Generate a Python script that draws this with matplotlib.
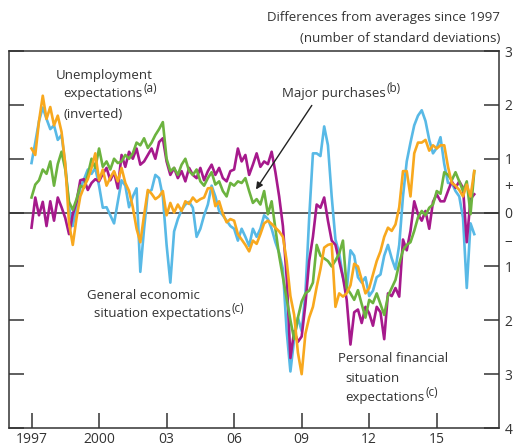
import matplotlib
matplotlib.use('Agg')
import matplotlib.pyplot as plt
import matplotlib.ticker as mticker
import numpy as np
import pandas as pd

plt.rcParams['font.family'] = ['Open Sans', 'DejaVu Sans']

# bi-monthly observations, Jan 1997 to Sep 2016
dates = pd.date_range('1997-01-01', periods=119, freq='2MS')

unemployment = [
    0.92, 1.3, 1.7, 1.95, 1.74, 1.55, 1.62, 1.35, 1.44, 0.9,
    0.1, -0.25, 0.1, 0.45, 0.62, 0.8, 0.72, 0.83, 0.5, 0.09,
    0.1, -0.05, -0.2, 0.2, 0.6, 0.5, 0.1, 0.3, 0.45, -1.1,
    -0.3, 0.38, 0.42, 0.7, 0.64, 0.3, -0.6, -1.3, -0.35, -0.12,
    0.05, 0.15, 0.2, 0.09, -0.45, -0.3, -0.05, 0.15, 0.5, 0.3,
    0.03, -0.05, -0.15, -0.25, -0.3, -0.52, -0.3, -0.45, -0.62, -0.3,
    -0.45, -0.3, -0.05, -0.12, -0.3, -0.55, -0.75, -1.05, -2.2, -2.95,
    -2.35, -1.95, -2.2, -1.5, -0.1, 1.1, 1.1, 1.05, 1.6, 1.25,
    0.3, -0.5, -0.75, -1.2, -1.45, -0.7, -0.8, -1.2, -1.3, -1.2,
    -1.55, -1.45, -1.2, -1.15, -0.8, -0.6, -0.85, -1.05, -0.6, 0.3,
    0.95, 1.3, 1.62, 1.8, 1.9, 1.7, 1.35, 1.1, 1.2, 1.4,
    0.9, 0.55, 0.55, 0.4, 0.3, -0.1, -1.4, -0.2, -0.4,
]

purchases = [
    0.28, 0.52, 0.6, 0.8, 0.72, 0.95, 0.5, 0.9, 1.13, 0.8,
    0.2, 0.05, 0.25, 0.5, 0.46, 0.7, 1.0, 0.83, 1.19, 0.85,
    0.95, 0.8, 1.0, 0.92, 0.95, 1.07, 1.0, 1.1, 1.3, 1.25,
    1.38, 1.2, 1.3, 1.44, 1.55, 1.68, 1.0, 0.77, 0.83, 0.7,
    0.89, 1.0, 0.77, 0.7, 0.8, 0.58, 0.5, 0.64, 0.75, 0.52,
    0.58, 0.4, 0.3, 0.55, 0.5, 0.58, 0.55, 0.64, 0.4, 0.18,
    0.25, 0.15, 0.4, -0.03, 0.21, -0.3, -0.8, -1.2, -1.6, -2.0,
    -2.35, -1.95, -1.65, -1.5, -1.45, -1.3, -0.6, -0.8, -0.85, -0.9,
    -1.0, -0.89, -0.76, -0.52, -1.4, -1.5, -1.62, -1.44, -1.7, -1.95,
    -1.62, -1.68, -1.5, -1.7, -1.9, -1.55, -1.4, -1.25, -0.95, -0.7,
    -0.6, -0.55, -0.34, -0.09, 0.03, -0.05, 0.09, 0.15, 0.4, 0.35,
    0.75, 0.7, 0.6, 0.75, 0.58, 0.4, 0.58, -0.03, 0.77,
]

personal = [
    -0.28, 0.28, -0.05, 0.2, -0.25, 0.21, -0.15, 0.28, 0.1, -0.1,
    -0.4, -0.03, 0.2, 0.6, 0.62, 0.42, 0.55, 0.62, 0.58, 0.72,
    0.83, 0.6, 0.75, 0.45, 1.07, 0.85, 1.13, 1.0, 1.19, 0.89,
    0.95, 1.07, 1.19, 1.0, 1.31, 1.38, 0.95, 0.7, 0.83, 0.64,
    0.77, 0.58, 0.83, 0.7, 0.64, 0.83, 0.6, 0.77, 0.89, 0.7,
    0.83, 0.64, 0.58, 0.77, 0.8, 1.19, 0.95, 1.07, 0.7, 0.89,
    1.1, 0.85, 0.95, 0.9, 1.13, 0.75, 0.3, -0.25, -1.2, -2.7,
    -2.2, -2.4, -2.3, -1.7, -0.9, -0.45, 0.15, 0.09, 0.28, -0.15,
    -0.52, -0.6, -0.9, -1.2, -1.62, -2.45, -1.85, -1.8, -2.05, -1.75,
    -1.87, -2.1, -1.75, -1.85, -2.35, -1.5, -1.55, -1.4, -1.56, -0.5,
    -0.7, -0.34, 0.21, -0.03, -0.15, 0.03, -0.3, 0.2, 0.34, 0.21,
    0.21, 0.4, 0.58, 0.46, 0.58, 0.46, -0.55, 0.25, 0.34,
]

general = [
    1.19, 1.07, 1.7, 2.17, 1.74, 1.96, 1.62, 1.8, 1.5, 0.9,
    -0.2, -0.6, -0.1, 0.3, 0.48, 0.62, 0.83, 1.1, 0.6, 0.8,
    0.5, 0.65, 0.77, 0.58, 0.83, 0.55, 0.4, 0.1, -0.3, -0.55,
    -0.05, 0.42, 0.35, 0.25, 0.3, 0.4, -0.05, 0.18, 0.0, 0.15,
    0.03, 0.21, 0.16, 0.28, 0.2, 0.25, 0.28, 0.45, 0.46, 0.12,
    0.21, -0.02, -0.18, -0.12, -0.15, -0.4, -0.5, -0.6, -0.72, -0.52,
    -0.58, -0.4, -0.2, -0.15, -0.21, -0.28, -0.35, -0.45, -0.9, -1.55,
    -1.9, -2.6, -3.0, -2.25, -1.95, -1.75, -1.38, -1.05, -0.65, -0.6,
    -0.58, -1.75, -1.5, -1.56, -1.5, -1.35, -0.95, -1.0, -1.25, -1.5,
    -1.4, -1.15, -0.9, -0.72, -0.45, -0.28, -0.34, -0.22, 0.1, 0.77,
    0.77, 0.3, 1.1, 1.3, 1.3, 1.35, 1.15, 1.25, 1.19, 1.25,
    1.25, 0.85, 0.55, 0.5, 0.42, 0.3, 0.52, 0.3, 0.77,
]

year_ticks = [1997, 2000, 2003, 2006, 2009, 2012, 2015]
year_labels = ['1997', '2000', '03', '06', '09', '12', '15']
y_ticks = [-4, -3, -2, -1, 0, 1, 2, 3]
y_labels = ['4', '3', '2', '1', '0', '1', '2', '3']

x = dates.year + (dates.month - 1) / 12.0

ink = '#333333'
fig = plt.figure(figsize=(5.17, 4.48), dpi=100)
ax = fig.add_axes([0.0174, 0.0446, 0.948, 0.8415])

lw = 1.9
ax.plot(x, unemployment, color='#58b9e6', lw=lw)
ax.plot(x, personal, color='#a6198c', lw=lw)
ax.plot(x, purchases, color='#6cb33f', lw=lw)
ax.plot(x, general, color='#f8a81e', lw=lw)
ax.axhline(0, color=ink, lw=1.1, zorder=1)

ax.set_xlim(1996.0, 2017.77)
ax.set_ylim(-4, 3)
for s in ax.spines.values():
    s.set_color(ink)
    s.set_linewidth(1.1)

ax.set_xticks(year_ticks)
ax.set_xticklabels(year_labels)
ax.set_yticks(y_ticks)
ax.set_yticklabels(y_labels)
ax.yaxis.set_minor_locator(mticker.FixedLocator([-0.5, 0.5]))
ax.yaxis.set_minor_formatter(mticker.FixedFormatter(['\u2013', '+']))
ax.tick_params(axis='both', which='major', direction='in', length=10.5,
               width=1.1, color=ink, labelcolor=ink, labelsize=10)
ax.tick_params(axis='y', which='both', left=True, right=True,
               labelleft=False, labelright=True, pad=4)
ax.tick_params(axis='y', which='minor', length=0, labelsize=11,
               labelcolor=ink)
ax.tick_params(axis='x', pad=3)

fs = 9.5
fig.text(0.967, 0.961, 'Differences from averages since 1997', ha='right',
         va='center', fontsize=fs, color=ink)
fig.text(0.967, 0.915, '(number of standard deviations)', ha='right',
         va='center', fontsize=fs, color=ink)

fig.canvas.draw()
renderer = fig.canvas.get_renderer()


def label(px, py, s, note=None):
    t = fig.text(px / 517, 1 - py / 448, s, ha='left', va='center',
                 fontsize=fs, color=ink)
    if note:
        bb = t.get_window_extent(renderer)
        fig.text((bb.x1 + 1) / 517, (bb.y1 + 5) / 448, note, ha='left',
                 va='top', fontsize=8.5, color=ink)


label(56, 75, 'Unemployment')
label(63, 94, 'expectations', '(a)')
label(63, 114, '(inverted)')
label(87, 295, 'General economic')
label(94, 314, 'situation expectations', '(c)')
label(338, 358, 'Personal financial')
label(345, 378, 'situation')
label(345, 398, 'expectations', '(c)')
label(282, 94, 'Major purchases', '(b)')

ax.annotate('', xy=(2006.97, 0.43), xytext=(2009.45, 1.99),
            arrowprops=dict(arrowstyle='-|>', color='#222222', lw=1.0,
                            mutation_scale=10, shrinkA=0, shrinkB=0))

fig.savefig('out.png', dpi=100)
